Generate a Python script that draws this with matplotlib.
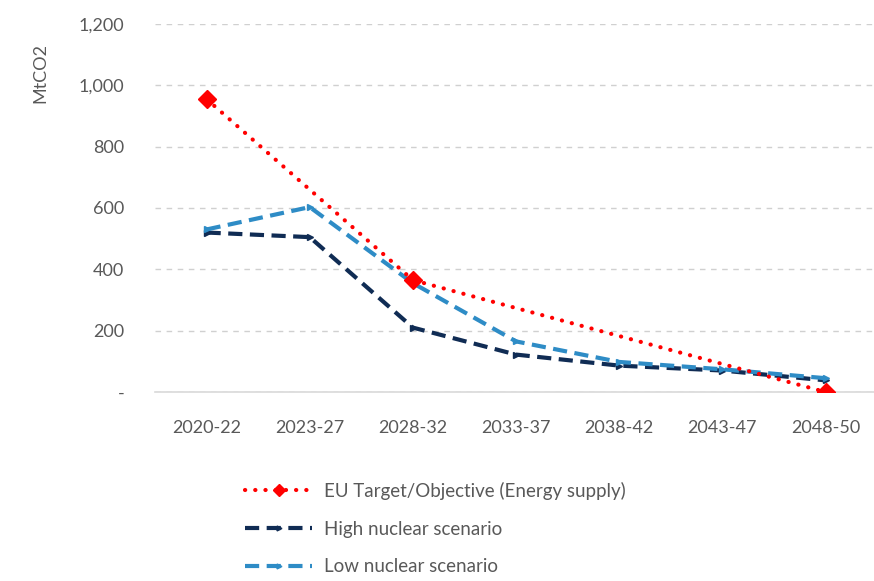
import numpy as np
import matplotlib
matplotlib.use("Agg")
import matplotlib.pyplot as plt
from matplotlib.ticker import FuncFormatter

# ── data (MtCO2)
periods = ["2020-22", "2023-27", "2028-32", "2033-37", "2038-42", "2043-47", "2048-50"]
eu_target = [955, None, 365, None, None, None, 0]
high_nuclear = [520, 505, 210, 122, 86, 70, 38]
low_nuclear = [530, 603, 355, 165, 98, 74, 45]
y_ticks = [0, 200, 400, 600, 800, 1000, 1200]

RED = "#ff0000"
NAVY = "#102c54"
LIGHT = "#2e8cc6"
GREY = "#595959"

plt.rcParams["font.family"] = ["Lato", "DejaVu Sans"]

fig = plt.figure(figsize=(8.74, 5.81), dpi=100)
ax = fig.add_axes([155 / 874, 1 - 392 / 581, 1 - 155 / 874, 368 / 581])

x = np.arange(len(periods))

# EU target only has a few points; connect them with a straight line
eu_x = [i for i, v in enumerate(eu_target) if v is not None]
eu_y = [v for v in eu_target if v is not None]
ax.plot(eu_x, eu_y, color=RED, linestyle=(0, (0.05, 2.4)), linewidth=3,
        dash_capstyle="round", marker="D", markersize=9,
        label="EU Target/Objective (Energy supply)", zorder=4)
ax.plot(x, high_nuclear, color=NAVY, linestyle=(0, (3.4, 1.8)), linewidth=3,
        marker=">", markersize=5, label="High nuclear scenario", zorder=3)
ax.plot(x, low_nuclear, color=LIGHT, linestyle=(0, (3.4, 1.8)), linewidth=3,
        marker=">", markersize=5, label="Low nuclear scenario", zorder=3)

ax.set_xlim(-0.5, 6.47)
ax.set_ylim(0, 1200)
ax.set_xticks(x)
ax.set_xticklabels(periods)
ax.set_yticks(y_ticks)
ax.yaxis.set_major_formatter(FuncFormatter(lambda v, p: "-" if v == 0 else f"{v:,.0f}"))

ax.grid(axis="y", color="#d0d0d0", linestyle=(0, (4, 4)), linewidth=1)
ax.set_axisbelow(True)
for s in ["top", "right", "left"]:
    ax.spines[s].set_visible(False)
ax.spines["bottom"].set_color("#d9d9d9")
ax.spines["bottom"].set_linewidth(1.2)
ax.tick_params(length=0, colors=GREY, labelsize=13)
ax.tick_params(axis="x", pad=20)
ax.tick_params(axis="y", pad=22)

fig.text(40 / 874, 1 - 73 / 581, "MtCO2", rotation=90, ha="center", va="center",
         color=GREY, fontsize=13)

leg = fig.legend(loc="upper left", bbox_to_anchor=(228 / 874, 1 - 465 / 581),
                 frameon=False, fontsize=13.5, handlelength=3.6, labelspacing=1.1,
                 handletextpad=0.6, markerscale=0.7)
for t in leg.get_texts():
    t.set_color(GREY)

fig.savefig("out.png", dpi=100)
